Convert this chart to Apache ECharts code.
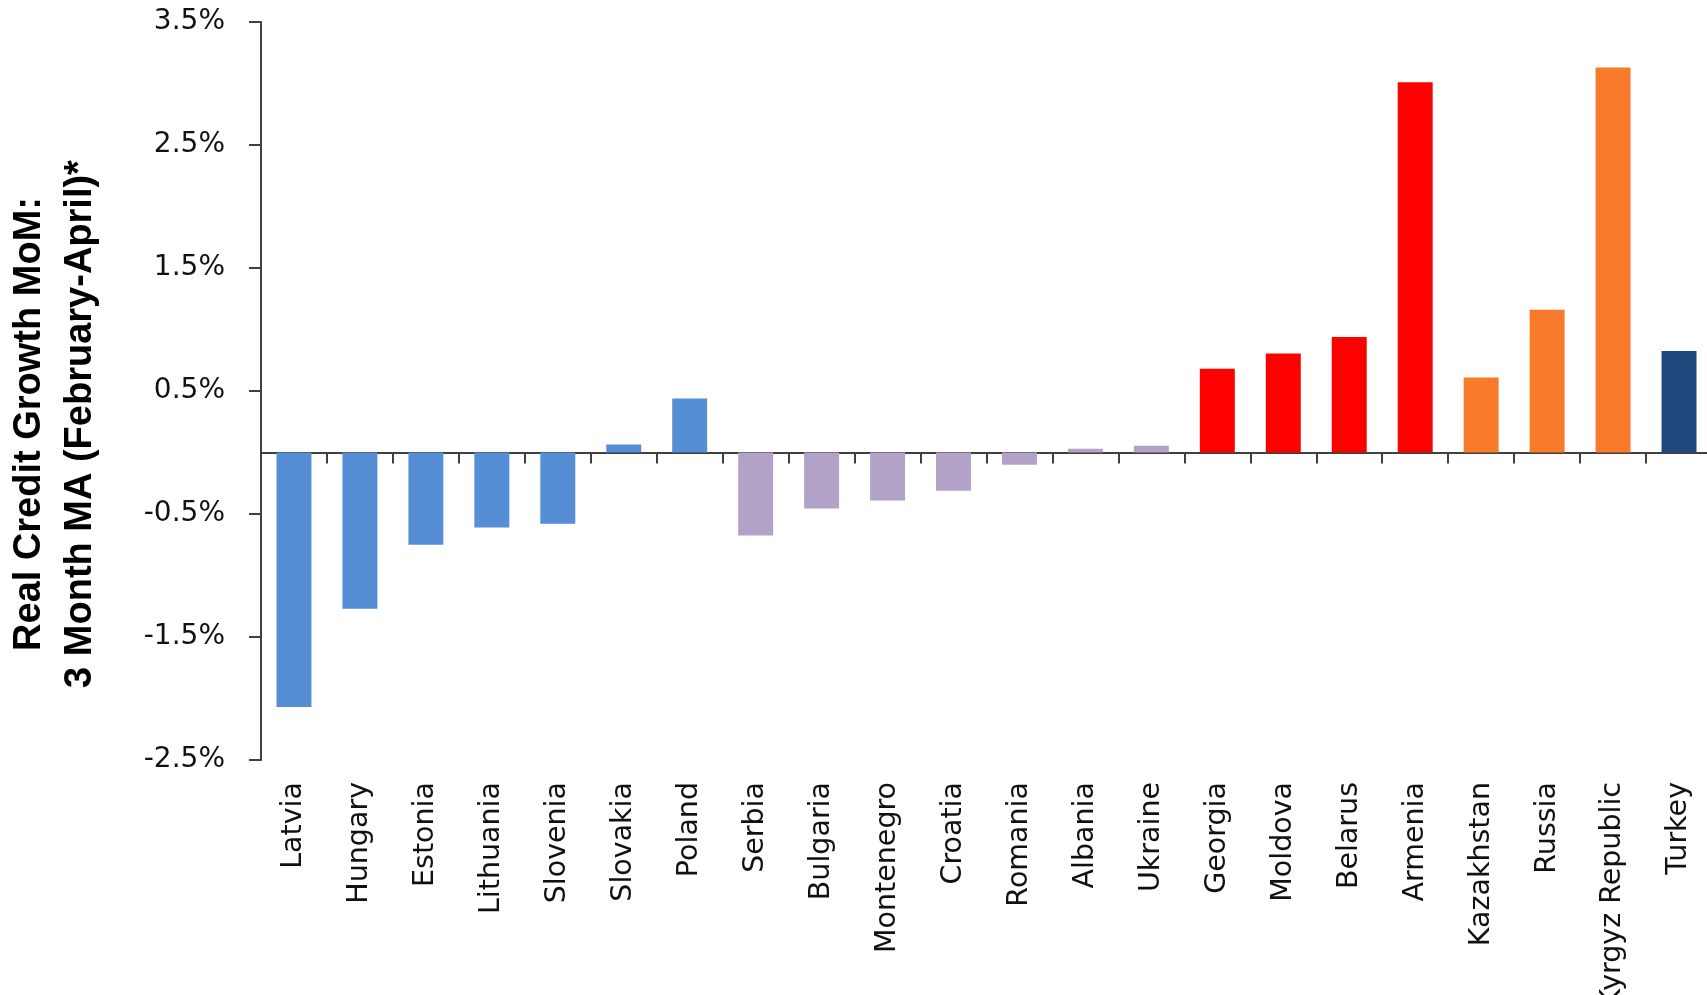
<!DOCTYPE html>
<html>
<head>
<meta charset="utf-8">
<title>Real Credit Growth MoM</title>
<script src="https://cdn.jsdelivr.net/npm/echarts@6/dist/echarts.min.js"></script>
<style>
  html, body { margin: 0; padding: 0; background: #ffffff; overflow: hidden; }
  #chart { width: 1707px; height: 995px; }
</style>
</head>
<body>
<div id="chart"></div>
<script>
// Countries in display order
const countries = [
  'Latvia', 'Hungary', 'Estonia', 'Lithuania', 'Slovenia', 'Slovakia', 'Poland',
  'Serbia', 'Bulgaria', 'Montenegro', 'Croatia', 'Romania', 'Albania', 'Ukraine',
  'Georgia', 'Moldova', 'Belarus', 'Armenia',
  'Kazakhstan', 'Russia', 'Kyrgyz Republic',
  'Turkey'
];

// Real credit growth, month on month, 3-month moving average (%)
const growth = [
  -2.07, -1.27, -0.75, -0.61, -0.58, 0.065, 0.44,
  -0.675, -0.455, -0.39, -0.31, -0.10, 0.03, 0.055,
  0.68, 0.805, 0.94, 3.01,
  0.61, 1.16, 3.13,
  0.825
];

// Regional group of each country (same order as countries)
const regions = [
  'ce', 'ce', 'ce', 'ce', 'ce', 'ce', 'ce',
  'see', 'see', 'see', 'see', 'see', 'see', 'see',
  'east', 'east', 'east', 'east',
  'asia', 'asia', 'asia',
  'tr'
];

// Value-axis range and step (%)
const yMin = -2.5;
const yMax = 3.5;
const yStep = 1;

const regionColors = {
  ce: '#558ED5',
  see: '#B3A2C7',
  east: '#FF0000',
  asia: '#F87A2A',
  tr: '#1F497D'
};

const axisGray = '#404040';
const labelFont = 'DejaVu Sans';

const chart = echarts.init(document.getElementById('chart'), null, { renderer: 'canvas' });

chart.setOption({
  animation: false,
  backgroundColor: '#ffffff',
  grid: {
    // the last category runs slightly past the right edge of the canvas
    left: 261, right: -5, top: 22, bottom: 235,
    containLabel: false,
    outerBoundsMode: 'none'
  },
  xAxis: [
    {
      // zero line with tick marks between categories
      type: 'category',
      data: countries,
      boundaryGap: true,
      axisLine: { onZero: true, lineStyle: { color: axisGray, width: 2 } },
      axisTick: { show: true, inside: false, length: 11, alignWithLabel: false, interval: 0,
                  lineStyle: { color: axisGray, width: 2 } },
      axisLabel: { show: false },
      splitLine: { show: false }
    },
    {
      // country names along the bottom of the plot
      type: 'category',
      data: countries,
      position: 'bottom',
      boundaryGap: true,
      axisLine: { show: false, onZero: false },
      axisTick: { show: false },
      axisLabel: {
        show: true, interval: 0, rotate: 90, margin: 22,
        fontFamily: labelFont, fontSize: 28.5, color: '#111111'
      },
      splitLine: { show: false }
    }
  ],
  yAxis: {
    type: 'value',
    min: yMin,
    max: yMax,
    interval: yStep,
    axisLine: { show: true, lineStyle: { color: axisGray, width: 2 } },
    axisTick: { show: true, inside: false, length: 12, lineStyle: { color: axisGray, width: 2 } },
    axisLabel: {
      show: true, margin: 36, showMinLabel: true, showMaxLabel: true,
      fontFamily: labelFont, fontSize: 28, color: '#111111',
      formatter: v => v.toFixed(1) + '%'
    },
    splitLine: { show: false }
  },
  series: [
    {
      type: 'bar',
      xAxisIndex: 0,
      barWidth: '53%',
      data: growth.map((v, i) => ({
        value: v,
        itemStyle: { color: regionColors[regions[i]] }
      }))
    }
  ],
  graphic: [
    {
      type: 'text',
      x: 55,
      y: 424,
      rotation: Math.PI / 2,
      style: {
        text: 'Real Credit Growth MoM:\n3 Month MA (February-April)*',
        x: 0, y: 0,
        align: 'center',
        verticalAlign: 'middle',
        lineHeight: 51,
        fontFamily: 'Liberation Sans',
        fontWeight: 'bold',
        fontSize: 38,
        fill: '#000000'
      }
    }
  ]
});
</script>
</body>
</html>
